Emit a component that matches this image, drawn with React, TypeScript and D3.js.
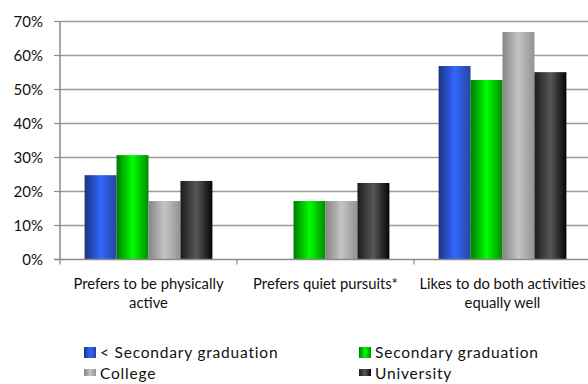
import React from "react";
import * as d3 from "d3";

const categories = [
  ["Prefers to be physically", "active"],
  ["Prefers quiet pursuits*"],
  ["Likes to do both activities", "equally well"],
];
const seriesNames = ["< Secondary graduation", "Secondary graduation", "College", "University"];
const lessSecondary = [0.248, null, 0.569];
const secondary = [0.307, 0.172, 0.528];
const college = [0.172, 0.172, 0.669];
const university = [0.231, 0.225, 0.551];
const yTicks = [0, 0.1, 0.2, 0.3, 0.4, 0.5, 0.6, 0.7];

const seriesValues = [lessSecondary, secondary, college, university];
const gradients = [
  ["#1b347f", "#3366ff", "#2746a0"],
  ["#007a00", "#00ff00", "#008c00"],
  ["#858585", "#c4c4c4", "#929292"],
  ["#1c1c1c", "#575757", "#050505"],
];

const W = 588;
const H = 384;
const FONT = "Lato, 'Open Sans', sans-serif";

export default function App() {
  const left = 60;
  const right = 591;
  const top = 21.5;
  const bottom = 259.5;
  const y = d3.scaleLinear().domain([0, 0.7]).range([bottom, top]);
  const x0 = d3.scaleBand<number>().domain(d3.range(categories.length)).range([left, right]).paddingInner(0).paddingOuter(0);
  const x1 = d3
    .scaleBand<number>()
    .domain(d3.range(seriesNames.length))
    .range([0, x0.bandwidth()])
    .paddingInner(0)
    .paddingOuter(0.77);
  const fmt = d3.format(".0%");

  const legendItems = seriesNames.map((name, i) => ({
    name,
    i,
    x: i % 2 === 0 ? 84 : 359,
    row: Math.floor(i / 2),
  }));

  return (
    <svg width={W} height={H} style={{ position: "absolute", left: 0, top: 0, background: "#fff" }}>
      <defs>
        {gradients.map((g, i) => (
          <linearGradient key={i} id={`grad${i}`} x1="0" x2="1" y1="0" y2="0">
            <stop offset="0%" stopColor={g[0]} />
            <stop offset="50%" stopColor={g[1]} />
            <stop offset="100%" stopColor={g[2]} />
          </linearGradient>
        ))}
      </defs>
      {/* gridlines */}
      {yTicks.map((t) => (
        <g key={t}>
          {t > 0 && (
            <line x1={left} x2={right} y1={y(t)} y2={y(t)} stroke="#9a9a9a" strokeWidth={1.6} />
          )}
          <line x1={left - 6} x2={left} y1={y(t)} y2={y(t)} stroke="#8a8a8a" strokeWidth={1.2} />
          <text
            x={43}
            y={y(t)}
            dy="0.36em"
            textAnchor="end"
            fontFamily={FONT}
            fontSize={15}
            fill="#111"
          >
            {fmt(t)}
          </text>
        </g>
      ))}
      {/* bars */}
      {categories.map((_, ci) => (
        <g key={ci} transform={`translate(${x0(ci)},0)`}>
          {seriesValues.map((vals, si) => {
            const v = vals[ci];
            if (v == null) return null;
            return (
              <rect
                key={si}
                x={x1(si)}
                y={y(v)}
                width={x1.bandwidth()}
                height={bottom - y(v)}
                fill={`url(#grad${si})`}
              />
            );
          })}
        </g>
      ))}
      {/* axes */}
      <line x1={left} x2={left} y1={top} y2={bottom} stroke="#8a8a8a" strokeWidth={1.5} />
      <line x1={left - 6} x2={right} y1={bottom} y2={bottom} stroke="#8a8a8a" strokeWidth={1.5} />
      {d3.range(categories.length + 1).map((i) => {
        const xx = i < categories.length ? (x0(i) as number) : right;
        return <line key={i} x1={xx} x2={xx} y1={bottom} y2={bottom + 5} stroke="#8a8a8a" strokeWidth={1.2} />;
      })}
      {/* category labels */}
      {categories.map((lines, ci) => (
        <text
          key={ci}
          x={(x0(ci) as number) + x0.bandwidth() / 2}
          y={289}
          textAnchor="middle"
          fontFamily={FONT}
          fontSize={14.8}
          fill="#111"
        >
          {lines.map((l, li) => (
            <tspan key={li} x={(x0(ci) as number) + x0.bandwidth() / 2} dy={li === 0 ? 0 : 18.5}>
              {l}
            </tspan>
          ))}
        </text>
      ))}
      {/* legend */}
      {legendItems.map((it) => (
        <g key={it.i}>
          <rect
            x={it.x}
            y={it.row === 0 ? 347 : 369}
            width={12}
            height={it.row === 0 ? 11 : 7}
            fill={`url(#grad${it.i})`}
          />
          <text
            x={it.x + 16}
            y={it.row === 0 ? 358 : 379}
            fontFamily={FONT}
            fontSize={15.5}
            letterSpacing={0.8}
            fill="#111"
          >
            {it.name}
          </text>
        </g>
      ))}
    </svg>
  );
}
